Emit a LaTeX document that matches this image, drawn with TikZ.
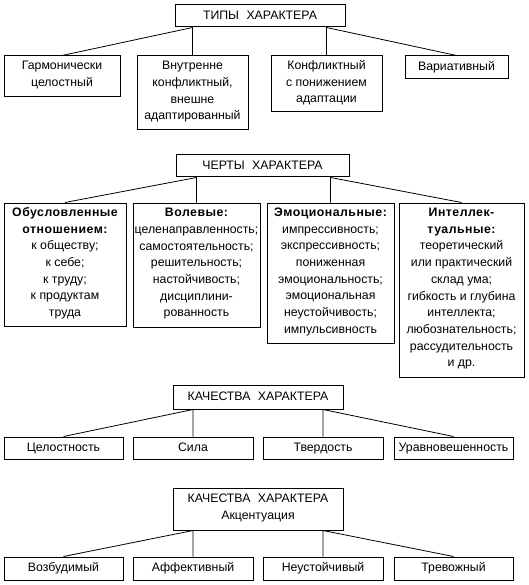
\documentclass[tikz,border=0pt]{standalone}
\usepackage{fontspec}
\setmainfont{Liberation Sans}
\newcommand{\hdr}[1]{{\bfseries\addfontfeature{LetterSpace=4}#1}}
\begin{document}
\begin{tikzpicture}[x=1pt,y=-1pt,
  box/.style={draw, line width=1pt, align=center, inner xsep=1pt, inner ysep=0pt,
    font=\fontsize{12.3}{16.7}\selectfont,
    execute at begin node=\strut, execute at end node=\strut},
  link/.style={line width=0.8pt}]
\useasboundingbox (0,0) rectangle (528,585);
% Section 1
\node[box, minimum width=170, minimum height=22] (t1) at (260,16) {ТИПЫ\hspace{0.6em}ХАРАКТЕРА};
\node[box, minimum width=116, minimum height=41] (a1) at (62,76.5) {Гармонически\\целостный};
\node[box, minimum width=111, minimum height=74] (a2) at (192.5,93) {Внутренне\\конфликтный,\\внешне\\адаптированный};
\node[box, minimum width=111, minimum height=56] (a3) at (326.5,84) {Конфликтный\\с понижением\\адаптации};
\node[box, minimum width=103, minimum height=23] (a4) at (456.5,67.5) {Вариативный};
\draw[link] (a1.north) -- (t1.south -| a2.north) -- (a2.north);
\draw[link] (a4.north) -- (t1.south -| a3.north) -- (a3.north);
% Section 2
\node[box, minimum width=173, minimum height=22] (t2) at (262.5,166) {ЧЕРТЫ\hspace{0.6em}ХАРАКТЕРА};
\node[box, minimum width=122, minimum height=123] (b1) at (65,264.5)
  {\hdr{Обусловленные}\\\hdr{отношением:}\\к обществу;\\к себе;\\к труду;\\к продуктам\\труда};
\node[box, minimum width=127, minimum height=124] (b2) at (196.5,265)
  {\hdr{Волевые:}\\целенаправленность;\\самостоятельность;\\решительность;\\настойчивость;\\дисциплини-\\рованность};
\node[box, minimum width=127, minimum height=140] (b3) at (330.5,273)
  {\hdr{Эмоциональные:}\\импрессивность;\\экспрессивность;\\пониженная\\эмоциональность;\\эмоциональная\\неустойчивость;\\импульсивность};
\node[box, minimum width=125, minimum height=174] (b4) at (461.5,290)
  {\hdr{Интеллек-}\\\hdr{туальные:}\\теоретический\\или практический\\склад ума;\\гибкость и глубина\\интеллекта;\\любознательность;\\рассудительность\\и др.};
\draw[link] (b1.north) -- (t2.south -| b2.north) -- (b2.north);
\draw[link] (b4.north) -- (t2.south -| b3.north) -- (b3.north);
% Section 3
\node[box, minimum width=170, minimum height=24] (t3) at (258,397) {КАЧЕСТВА\hspace{0.6em}ХАРАКТЕРА};
\node[box, minimum width=119, minimum height=22] (c1) at (63.5,448) {Целостность};
\node[box, minimum width=120, minimum height=22] (c2) at (193,448) {Сила};
\node[box, minimum width=120, minimum height=22] (c3) at (323,448) {Твердость};
\node[box, minimum width=119, minimum height=22] (c4) at (453.5,448) {Уравновешенность};
\draw[link] (c1.north) -- (t3.south -| c2.north) -- (c2.north);
\draw[link] (c4.north) -- (t3.south -| c3.north) -- (c3.north);
% Section 4
\node[box, minimum width=170, minimum height=42] (t4) at (258,509) {КАЧЕСТВА\hspace{0.6em}ХАРАКТЕРА\\Акцентуация};
\node[box, minimum width=119, minimum height=23] (d1) at (63.5,568.5) {Возбудимый};
\node[box, minimum width=120, minimum height=23] (d2) at (193,568.5) {Аффективный};
\node[box, minimum width=120, minimum height=23] (d3) at (323,568.5) {Неустойчивый};
\node[box, minimum width=119, minimum height=23] (d4) at (453.5,568.5) {Тревожный};
\draw[link] (d1.north) -- (t4.south -| d2.north) -- (d2.north);
\draw[link] (d4.north) -- (t4.south -| d3.north) -- (d3.north);
\end{tikzpicture}
\end{document}
